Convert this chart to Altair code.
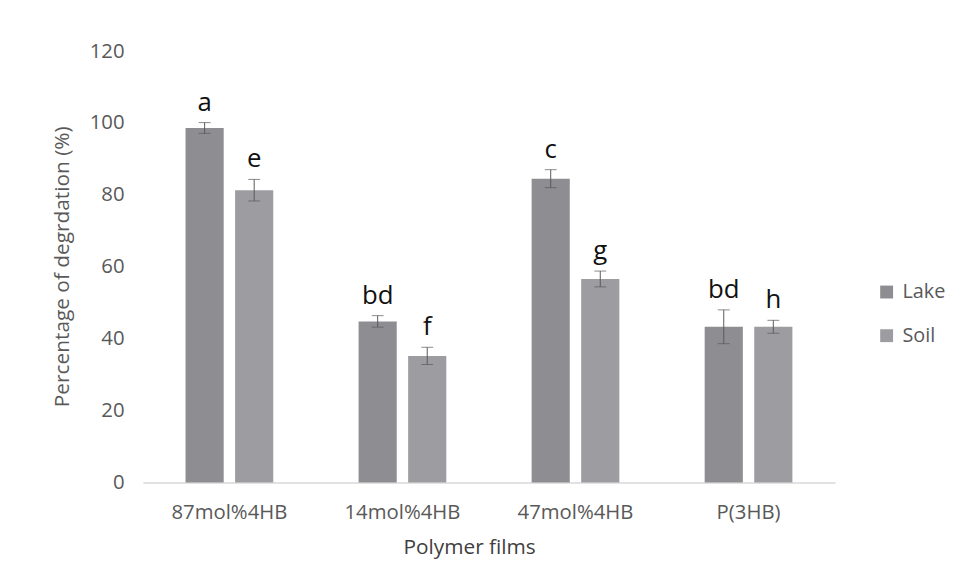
import altair as alt
import pandas as pd

categories = ["87mol%4HB", "14mol%4HB", "47mol%4HB", "P(3HB)"]
series = ["Lake", "Soil"]
lake = [98.6, 44.8, 84.5, 43.3]
lake_err = [1.5, 1.6, 2.5, 4.7]
soil = [81.3, 35.2, 56.6, 43.3]
soil_err = [3.0, 2.4, 2.2, 1.8]
lake_letters = ["a", "bd", "c", "bd"]
soil_letters = ["e", "f", "g", "h"]
y_ticks = [0, 20, 40, 60, 80, 100, 120]

rows = []
for i, c in enumerate(categories):
    rows.append({"film": c, "site": "Lake", "value": lake[i], "err": lake_err[i], "letter": lake_letters[i]})
    rows.append({"film": c, "site": "Soil", "value": soil[i], "err": soil_err[i], "letter": soil_letters[i]})
df = pd.DataFrame(rows)
df["lo"] = df["value"] - df["err"]
df["hi"] = df["value"] + df["err"]

FONT = "Open Sans"
GRAY = "#595959"

x_enc = alt.X("film:N", sort=categories,
              scale=alt.Scale(paddingInner=0.493, paddingOuter=0.2465),
              axis=alt.Axis(title="Polymer films", labelAngle=0, labelFontSize=20.5,
                            labelColor=GRAY, labelFont=FONT, labelPadding=20,
                            titleFontSize=21, titleFont=FONT, titleColor="#404040",
                            titleFontWeight="normal", titleX=329, titleY=66,
                            titleBaseline="middle",
                            domainColor="#d9d9d9", domainWidth=1.5, ticks=False))
xo_enc = alt.XOffset("site:N", sort=series, scale=alt.Scale(paddingInner=0.23, paddingOuter=0))
y_scale = alt.Scale(domain=[0, 120])

bars = alt.Chart(df).mark_bar().encode(
    x=x_enc,
    xOffset=xo_enc,
    y=alt.Y("value:Q", scale=y_scale,
            axis=alt.Axis(title="Percentage of degrdation (%)", values=y_ticks,
                          labelFontSize=20.5, labelColor=GRAY, labelFont=FONT,
                          labelPadding=19, grid=False, domain=False, ticks=False,
                          titleFontSize=21, titleFont=FONT, titleColor=GRAY,
                          titleFontWeight="normal", titleX=-81, titleY=217,
                          titleBaseline="middle")),
    color=alt.Color("site:N", sort=series,
                    scale=alt.Scale(domain=series, range=["#8E8E92", "#9D9DA1"]),
                    legend=alt.Legend(title=None, orient="none", legendX=740, legendY=233,
                                      symbolType="square", symbolSize=169,
                                      symbolStrokeWidth=0, labelFontSize=20,
                                      labelFont=FONT, labelColor=GRAY, labelOffset=6,
                                      rowPadding=24)),
)

rules = alt.Chart(df).mark_rule(color="#595959", strokeWidth=1).encode(
    x=alt.X("film:N", sort=categories), xOffset=xo_enc,
    y=alt.Y("lo:Q", scale=y_scale), y2="hi:Q",
)

caps_hi = alt.Chart(df).mark_tick(color="#595959", size=12, thickness=1).encode(
    x=alt.X("film:N", sort=categories), xOffset=xo_enc,
    y=alt.Y("hi:Q", scale=y_scale),
)
caps_lo = alt.Chart(df).mark_tick(color="#595959", size=12, thickness=1).encode(
    x=alt.X("film:N", sort=categories), xOffset=xo_enc,
    y=alt.Y("lo:Q", scale=y_scale),
)

labels = alt.Chart(df).mark_text(font=FONT, fontSize=26, color="#111111",
                                 baseline="bottom", dy=-7).encode(
    x=alt.X("film:N", sort=categories), xOffset=xo_enc,
    y=alt.Y("hi:Q", scale=y_scale),
    text="letter:N",
)

chart = alt.layer(bars, rules, caps_hi, caps_lo, labels).properties(
    width=698, height=435,
    background="white",
    autosize=alt.AutoSizeParams(type="none"),
    padding={"left": 136, "top": 41, "right": 128, "bottom": 100},
).configure_view(strokeWidth=0, stroke="transparent")

chart.save("out.html", embed_options={"renderer": "svg", "actions": False})
